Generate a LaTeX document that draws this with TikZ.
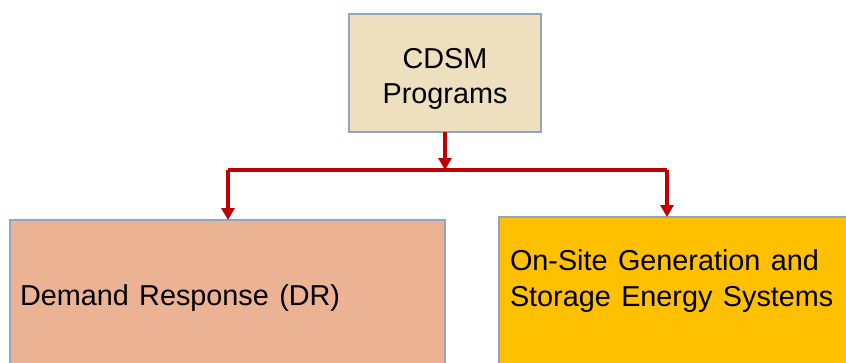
\documentclass[tikz,border=0pt]{standalone}
\usepackage{fontspec}
\setmainfont{Liberation Sans}[WordSpace={1.3,0.5,0.3}]
\usetikzlibrary{arrows.meta}
\definecolor{topfill}{HTML}{EEE0BE}
\definecolor{boxline}{HTML}{8FA6BE}
\definecolor{drfill}{HTML}{EBB294}
\definecolor{genfill}{HTML}{FFC000}
\definecolor{arrred}{HTML}{C00000}
\tikzset{
  box/.style={draw=boxline, line width=1.5pt, inner sep=0pt, outer sep=0pt},
  txt/.style={font=\fontsize{28.8}{35}\selectfont, inner sep=0pt, outer sep=0pt},
  arr/.style={draw=arrred, line width=3.2pt, -{Triangle[length=12pt,width=13pt]}},
  conn/.style={draw=arrred, line width=3.2pt},
}
\begin{document}
\begin{tikzpicture}[x=1pt,y=-1pt]
\useasboundingbox (0,0) rectangle (846,362);
\clip (0,0) rectangle (846,362);
\node[box, fill=topfill, minimum width=192pt, minimum height=118pt] (top) at (445,73) {};
\node[txt, align=center, text depth=0pt] (toptxt) at (445,76) {CDSM\\Programs};
\node[box, fill=drfill, minimum width=435pt, minimum height=160pt, anchor=north west] (dr) at (10,220) {};
\node[txt, anchor=base west] (drtxt) at (20,305) {Demand Response (DR)};
\node[box, fill=genfill, minimum width=400pt, minimum height=160pt, anchor=north west] (gen) at (499,217) {};
\node[txt, anchor=base west] (gen1) at (510,270) {On-Site Generation and};
\node[txt, anchor=base west] (gen2) at (510,306) {Storage Energy Systems};
\coordinate (j) at (445,170);
\coordinate (jl) at (228,170);
\coordinate (jr) at (667,170);
\draw[arr] (top.south) -- (j);
\draw[conn] (jl) -- (jr);
\draw[arr] (jl) -- (jl |- dr.north);
\draw[arr] (jr) -- (jr |- gen.north);
\end{tikzpicture}
\end{document}
